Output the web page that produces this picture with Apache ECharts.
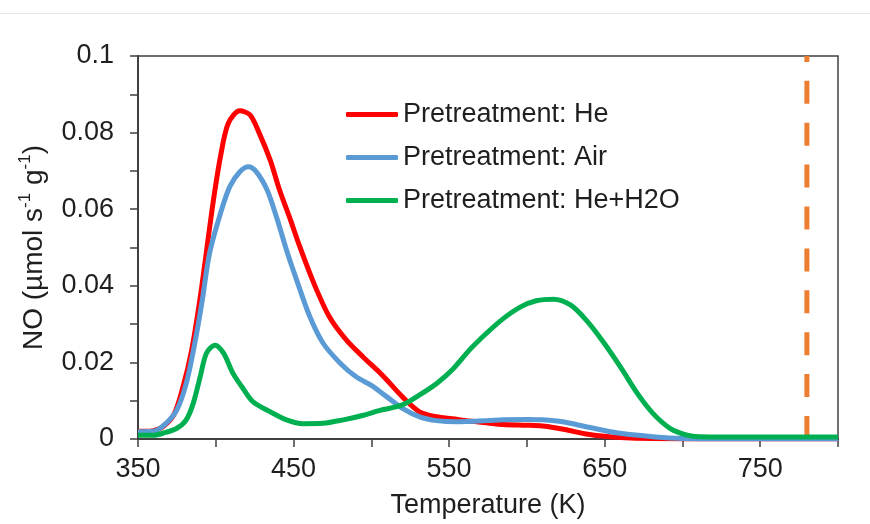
<!DOCTYPE html>
<html>
<head>
<meta charset="utf-8">
<script src="https://cdn.jsdelivr.net/npm/echarts@6/dist/echarts.min.js"></script>
<style>html,body{margin:0;padding:0;background:#fff}#c{width:870px;height:524px}</style>
</head>
<body>
<div id="c"></div>
<script>
var heT = [350,355,360,366,373,379,384.5,390,395,398.5,403,408,415.5,422,428,435,441,448,454,463,473,484,495,505,510,520,531,542,552,563,575,585,600,610,620,630,638,650,660,681,700,750,800];
var heV = [0.002,0.002,0.0022,0.0032,0.0063,0.0137,0.0232,0.037,0.052,0.0624,0.0737,0.0824,0.0857,0.0846,0.0798,0.0728,0.065,0.0572,0.0502,0.0407,0.0319,0.0258,0.0213,0.0175,0.0154,0.011,0.0071,0.0058,0.0053,0.0047,0.0042,0.0038,0.0036,0.0034,0.0028,0.002,0.0013,0.0007,0.0004,0.0001,0,0,0];
var airT = [350,360,368,375,381,386.5,391,396,403,409,415.5,421,426,433,439,445.5,452,460.5,469,480,490,500,510,520,531,542,555,563,575,585,600,610,623,638,650,660,681,696,710,800];
var airV = [0.0019,0.002,0.0041,0.0076,0.0145,0.025,0.0354,0.0485,0.0589,0.0659,0.0698,0.0711,0.0698,0.065,0.058,0.0493,0.0415,0.0319,0.025,0.0198,0.0163,0.014,0.011,0.008,0.0058,0.0048,0.0045,0.0046,0.0048,0.005,0.0051,0.005,0.0045,0.0032,0.0022,0.0015,0.0006,0.0002,0,0];
var wetT = [350,360,366,375,381,385.5,390,394,399.5,405,411,417.5,424,435,445.5,456,469,482,495,505,520,531,542,553,563,574,585,596,606,617,628,638,649,660,671,681,692,703,711,750,800];
var wetV = [0.001,0.001,0.0015,0.0028,0.005,0.0093,0.0163,0.0224,0.0245,0.0224,0.0172,0.0132,0.0097,0.0071,0.005,0.004,0.0041,0.005,0.0062,0.0074,0.0089,0.0115,0.0145,0.0185,0.0232,0.0276,0.0315,0.0345,0.0361,0.0365,0.035,0.0311,0.0254,0.0189,0.0119,0.0067,0.0028,0.001,0.0006,0.0005,0.0005];
var markT = [780, 780];
var markV = [0, 0.1];
var names = ['Pretreatment: He','Pretreatment: Air','Pretreatment: He+H2O'];

function pairs(t, v){ return t.map(function(x,i){ return [x, v[i]]; }); }

var FONT = '"Liberation Sans", Arial, sans-serif';
var TXT = '#1f1f1f';
var AX = '#404040';

var chart = echarts.init(document.getElementById('c'), null, {renderer:'canvas'});
chart.setOption({
  animation: false,
  backgroundColor: '#fff',
  graphic: [{type:'line', shape:{x1:0,y1:13.5,x2:870,y2:13.5}, style:{stroke:'#e6e6e6', lineWidth:1}}],
  grid: {left:138, right:32, top:56, bottom:85, show:true, borderColor:AX, borderWidth:1.5, backgroundColor:'transparent'},
  legend: {
    orient:'vertical', left:341, top:96, itemWidth:52, itemHeight:5, itemGap:16,
    icon:'roundRect', data: names,
    textStyle:{fontFamily:FONT, fontSize:27, color:TXT}
  },
  xAxis: {
    type:'value', min:350, max:800, interval:50,
    name:'Temperature (K)', nameLocation:'middle', nameGap:53,
    nameTextStyle:{fontFamily:FONT, fontSize:27, color:TXT},
    axisLine:{show:true, onZero:false, lineStyle:{color:AX, width:2}},
    axisTick:{show:true, inside:false, length:8, lineStyle:{color:AX, width:1.5}},
    splitLine:{show:false},
    axisLabel:{fontFamily:FONT, fontSize:27, color:TXT, margin:17,
      formatter:function(v){ return ((v-350)%100===0) ? String(v) : ''; }}
  },
  yAxis: {
    type:'value', min:0, max:0.1, interval:0.01,
    name:'{a|NO (µmol s}{s|-1}{a| g}{s|-1}{a|)}', nameLocation:'middle', nameGap:90, nameRotate:90,
    nameTextStyle:{fontFamily:FONT, fontSize:28, color:TXT,
      rich:{a:{fontFamily:FONT, fontSize:28, color:TXT, lineHeight:31, verticalAlign:'bottom'},
            s:{fontFamily:FONT, fontSize:17, color:TXT, lineHeight:31, verticalAlign:'top'}}},
    axisLine:{show:true, lineStyle:{color:AX, width:2}},
    axisTick:{show:true, inside:false, length:8, lineStyle:{color:AX, width:1.5}},
    splitLine:{show:false},
    axisLabel:{fontFamily:FONT, fontSize:27, color:TXT, margin:24,
      formatter:function(v){ var k=Math.round(v*100); if(k%2!==0) return ''; return k===0?'0':String(+(k/100).toFixed(2)); }}
  },
  series: [
    {name:'dash', type:'line', data:pairs(markT, markV), symbol:'none', silent:true,
     lineStyle:{color:'#ed7d31', width:5, type:[23,18.9], cap:'butt'}, z:1},
    {name:names[0], type:'line', data:pairs(heT, heV), symbol:'none', smooth:0.3,
     lineStyle:{color:'#ff0000', width:5}, itemStyle:{color:'#ff0000'}, z:2},
    {name:names[1], type:'line', data:pairs(airT, airV), symbol:'none', smooth:0.3,
     lineStyle:{color:'#5b9bd5', width:5}, itemStyle:{color:'#5b9bd5'}, z:3},
    {name:names[2], type:'line', data:pairs(wetT, wetV), symbol:'none', smooth:0.3,
     lineStyle:{color:'#00b050', width:5}, itemStyle:{color:'#00b050'}, z:4}
  ]
});
</script>
</body>
</html>
